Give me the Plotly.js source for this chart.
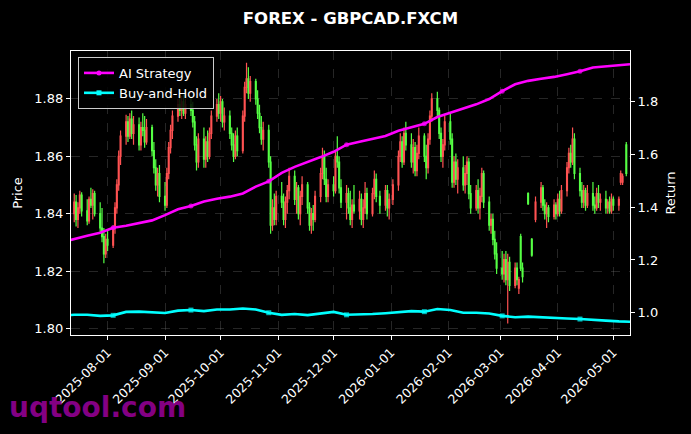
<!DOCTYPE html>
<html>
<head>
<meta charset="utf-8">
<script src="https://cdn.plot.ly/plotly-3.0.1.min.js"></script>
<style>html,body{margin:0;padding:0;background:#000;}#chart{width:691px;height:434px;}</style>
</head>
<body>
<div id="chart"></div>
<script>
// ---- candle data (daily, GBPCAD) ----
const dates = [
'2025-07-14','2025-07-15','2025-07-16','2025-07-17','2025-07-18',
'2025-07-21','2025-07-22','2025-07-23','2025-07-24','2025-07-25',
'2025-07-28','2025-07-29','2025-07-30','2025-07-31','2025-08-01',
'2025-08-04','2025-08-05','2025-08-06','2025-08-07','2025-08-08',
'2025-08-11','2025-08-12','2025-08-13','2025-08-14','2025-08-15',
'2025-08-18','2025-08-19','2025-08-20','2025-08-21','2025-08-22',
'2025-08-25','2025-08-26','2025-08-27','2025-08-28','2025-08-29',
'2025-09-01','2025-09-02','2025-09-03','2025-09-04','2025-09-05',
'2025-09-08','2025-09-09','2025-09-10','2025-09-11','2025-09-12',
'2025-09-15','2025-09-16','2025-09-17','2025-09-18','2025-09-19',
'2025-09-22','2025-09-23','2025-09-24','2025-09-25','2025-09-26',
'2025-09-29','2025-09-30','2025-10-01','2025-10-02','2025-10-03',
'2025-10-06','2025-10-07','2025-10-08','2025-10-09','2025-10-10',
'2025-10-13','2025-10-14','2025-10-15','2025-10-16','2025-10-17',
'2025-10-20','2025-10-21','2025-10-22','2025-10-23','2025-10-24',
'2025-10-27','2025-10-28','2025-10-29','2025-10-30','2025-10-31',
'2025-11-03','2025-11-04','2025-11-05','2025-11-06','2025-11-07',
'2025-11-10','2025-11-11','2025-11-12','2025-11-13','2025-11-14',
'2025-11-17','2025-11-18','2025-11-19','2025-11-20','2025-11-21',
'2025-11-24','2025-11-25','2025-11-26','2025-11-27','2025-11-28',
'2025-12-01','2025-12-02','2025-12-03','2025-12-04','2025-12-05',
'2025-12-08','2025-12-09','2025-12-10','2025-12-11','2025-12-12',
'2025-12-15','2025-12-16','2025-12-17','2025-12-18','2025-12-19',
'2025-12-22','2025-12-23','2025-12-24','2025-12-26',
'2025-12-29','2025-12-30','2025-12-31','2026-01-02',
'2026-01-05','2026-01-06','2026-01-07','2026-01-08','2026-01-09',
'2026-01-12','2026-01-13','2026-01-14','2026-01-15','2026-01-16',
'2026-01-19','2026-01-20','2026-01-21','2026-01-22','2026-01-23',
'2026-01-26','2026-01-27','2026-01-28','2026-01-29','2026-01-30',
'2026-02-02','2026-02-03','2026-02-04','2026-02-05','2026-02-06',
'2026-02-09','2026-02-10','2026-02-11','2026-02-12','2026-02-13',
'2026-02-16','2026-02-17','2026-02-18','2026-02-19','2026-02-20',
'2026-02-23','2026-02-24','2026-02-25','2026-02-26','2026-02-27',
'2026-03-02','2026-03-03','2026-03-04','2026-03-05','2026-03-06',
'2026-03-09','2026-03-10','2026-03-11','2026-03-12','2026-03-13',
'2026-03-16','2026-03-18','2026-03-20',
'2026-03-23','2026-03-24','2026-03-25','2026-03-26','2026-03-27',
'2026-03-30','2026-03-31','2026-04-01','2026-04-02','2026-04-03',
'2026-04-06','2026-04-07','2026-04-08','2026-04-09','2026-04-10',
'2026-04-13','2026-04-14','2026-04-15','2026-04-16','2026-04-17',
'2026-04-20','2026-04-21','2026-04-22','2026-04-23','2026-04-24',
'2026-04-27','2026-04-28','2026-04-29','2026-04-30','2026-05-01',
'2026-05-04','2026-05-05','2026-05-06','2026-05-08'
];
const openP = [
1.8400,1.8440,1.8380,1.8420,1.8465,
1.8410,1.8375,1.8450,1.8430,1.8470,
1.8400,1.8350,1.8320,1.8260,1.8310,
1.8290,1.8350,1.8420,1.8500,1.8600,
1.8670,1.8720,1.8670,1.8730,1.8680,
1.8710,1.8640,1.8700,1.8690,1.8650,
1.8700,1.8620,1.8560,1.8500,1.8540,
1.8460,1.8430,1.8540,1.8630,1.8690,
1.8740,1.8780,1.8760,1.8790,1.8750,
1.8780,1.8760,1.8720,1.8640,1.8580,
1.8660,1.8590,1.8650,1.8600,1.8680,
1.8740,1.8780,1.8750,1.8790,1.8720,
1.8740,1.8680,1.8640,1.8600,1.8670,
1.8620,1.8740,1.8840,1.8870,1.8820,
1.8860,1.8800,1.8750,1.8700,1.8660,
1.8690,1.8580,1.8360,1.8420,1.8380,
1.8460,1.8440,1.8380,1.8440,1.8480,
1.8530,1.8450,1.8490,1.8400,1.8460,
1.8500,1.8420,1.8360,1.8400,1.8380,
1.8460,1.8540,1.8600,1.8520,1.8460,
1.8500,1.8480,1.8600,1.8580,1.8490,
1.8440,1.8470,1.8420,1.8380,1.8430,
1.8410,1.8450,1.8380,1.8420,1.8470,
1.8400,1.8470,1.8520,1.8460,
1.8430,1.8480,1.8420,1.8450,
1.8500,1.8600,1.8650,1.8580,1.8680,
1.8640,1.8580,1.8630,1.8550,1.8610,
1.8670,1.8600,1.8560,1.8660,1.8740,
1.8800,1.8760,1.8680,1.8600,1.8640,
1.8720,1.8660,1.8510,1.8580,1.8520,
1.8560,1.8500,1.8540,1.8580,1.8470,
1.8420,1.8480,1.8420,1.8460,1.8540,
1.8440,1.8360,1.8380,1.8310,1.8260,
1.8210,1.8190,1.8240,1.8170,1.8230,
1.8150,1.8210,1.8140,1.8320,1.8210,
1.8470,1.8310,1.8380,
1.8440,1.8490,1.8430,1.8400,1.8420,
1.8390,1.8430,1.8400,1.8450,1.8410,
1.8480,1.8560,1.8610,1.8580,1.8660,
1.8540,1.8480,1.8440,1.8480,1.8430,
1.8470,1.8430,1.8420,1.8470,1.8440,
1.8450,1.8420,1.8440,1.8410,1.8450,
1.8430,1.8510,1.8510,1.8640
];
const highP = [
1.8470,1.8465,1.8440,1.8480,1.8475,
1.8450,1.8460,1.8490,1.8485,1.8480,
1.8440,1.8420,1.8350,1.8330,1.8340,
1.8360,1.8440,1.8520,1.8620,1.8690,
1.8745,1.8740,1.8750,1.8760,1.8740,
1.8735,1.8720,1.8750,1.8740,1.8730,
1.8710,1.8650,1.8590,1.8560,1.8570,
1.8510,1.8560,1.8650,1.8710,1.8760,
1.8800,1.8820,1.8810,1.8815,1.8800,
1.8810,1.8790,1.8740,1.8670,1.8680,
1.8700,1.8670,1.8690,1.8700,1.8760,
1.8800,1.8820,1.8810,1.8800,1.8770,
1.8760,1.8700,1.8680,1.8690,1.8700,
1.8760,1.8860,1.8926,1.8910,1.8880,
1.8870,1.8830,1.8780,1.8740,1.8720,
1.8710,1.8600,1.8450,1.8470,1.8480,
1.8510,1.8470,1.8460,1.8500,1.8560,
1.8550,1.8510,1.8500,1.8480,1.8530,
1.8510,1.8440,1.8420,1.8430,1.8480,
1.8560,1.8630,1.8620,1.8560,1.8520,
1.8530,1.8620,1.8670,1.8600,1.8520,
1.8500,1.8490,1.8480,1.8450,1.8500,
1.8480,1.8470,1.8450,1.8510,1.8490,
1.8490,1.8550,1.8540,1.8480,
1.8500,1.8500,1.8470,1.8520,
1.8620,1.8680,1.8670,1.8700,1.8720,
1.8680,1.8660,1.8650,1.8640,1.8700,
1.8680,1.8640,1.8680,1.8760,1.8820,
1.8825,1.8770,1.8700,1.8660,1.8740,
1.8750,1.8680,1.8600,1.8610,1.8590,
1.8600,1.8570,1.8600,1.8595,1.8500,
1.8500,1.8520,1.8490,1.8560,1.8550,
1.8460,1.8400,1.8400,1.8340,1.8300,
1.8270,1.8260,1.8270,1.8260,1.8250,
1.8230,1.8230,1.8180,1.8330,1.8230,
1.8475,1.8315,1.8460,
1.8510,1.8500,1.8450,1.8440,1.8430,
1.8450,1.8440,1.8470,1.8480,1.8500,
1.8580,1.8630,1.8640,1.8700,1.8680,
1.8560,1.8510,1.8500,1.8490,1.8500,
1.8510,1.8460,1.8490,1.8500,1.8470,
1.8480,1.8450,1.8460,1.8470,1.8460,
1.8460,1.8550,1.8540,1.8650
];
const lowP = [
1.8370,1.8355,1.8350,1.8400,1.8390,
1.8360,1.8365,1.8420,1.8380,1.8390,
1.8330,1.8300,1.8227,1.8245,1.8270,
1.8280,1.8330,1.8400,1.8480,1.8570,
1.8640,1.8650,1.8660,1.8660,1.8640,
1.8620,1.8620,1.8670,1.8630,1.8640,
1.8600,1.8540,1.8480,1.8460,1.8440,
1.8410,1.8420,1.8520,1.8610,1.8660,
1.8720,1.8740,1.8730,1.8740,1.8730,
1.8740,1.8700,1.8620,1.8550,1.8560,
1.8560,1.8560,1.8580,1.8590,1.8660,
1.8720,1.8730,1.8720,1.8700,1.8690,
1.8660,1.8620,1.8580,1.8590,1.8600,
1.8610,1.8720,1.8820,1.8800,1.8790,
1.8780,1.8730,1.8680,1.8640,1.8620,
1.8560,1.8330,1.8340,1.8360,1.8360,
1.8420,1.8360,1.8350,1.8400,1.8450,
1.8430,1.8400,1.8380,1.8360,1.8430,
1.8400,1.8340,1.8330,1.8340,1.8370,
1.8440,1.8520,1.8500,1.8440,1.8440,
1.8460,1.8470,1.8560,1.8470,1.8420,
1.8380,1.8400,1.8360,1.8350,1.8400,
1.8380,1.8360,1.8350,1.8400,1.8380,
1.8390,1.8450,1.8440,1.8400,
1.8410,1.8390,1.8380,1.8430,
1.8480,1.8580,1.8560,1.8570,1.8620,
1.8560,1.8540,1.8530,1.8530,1.8590,
1.8580,1.8520,1.8540,1.8640,1.8720,
1.8740,1.8660,1.8580,1.8560,1.8620,
1.8640,1.8490,1.8490,1.8500,1.8470,
1.8480,1.8470,1.8500,1.8450,1.8400,
1.8410,1.8400,1.8380,1.8440,1.8420,
1.8340,1.8330,1.8290,1.8240,1.8190,
1.8170,1.8160,1.8150,1.8017,1.8130,
1.8140,1.8150,1.8120,1.8200,1.8160,
1.8430,1.8250,1.8370,
1.8420,1.8410,1.8380,1.8350,1.8370,
1.8380,1.8380,1.8390,1.8390,1.8400,
1.8460,1.8540,1.8560,1.8570,1.8520,
1.8460,1.8420,1.8420,1.8410,1.8420,
1.8410,1.8400,1.8410,1.8420,1.8410,
1.8400,1.8400,1.8400,1.8400,1.8410,
1.8410,1.8500,1.8500,1.8530
];
const closeP = [
1.8440,1.8380,1.8420,1.8465,1.8410,
1.8375,1.8450,1.8430,1.8470,1.8400,
1.8350,1.8320,1.8260,1.8310,1.8290,
1.8350,1.8420,1.8500,1.8600,1.8670,
1.8720,1.8670,1.8730,1.8680,1.8710,
1.8640,1.8700,1.8690,1.8650,1.8700,
1.8620,1.8560,1.8500,1.8540,1.8460,
1.8430,1.8540,1.8630,1.8690,1.8740,
1.8780,1.8760,1.8790,1.8750,1.8780,
1.8760,1.8720,1.8640,1.8580,1.8660,
1.8590,1.8650,1.8600,1.8680,1.8740,
1.8780,1.8750,1.8790,1.8720,1.8740,
1.8680,1.8640,1.8600,1.8670,1.8620,
1.8740,1.8840,1.8870,1.8820,1.8860,
1.8800,1.8750,1.8700,1.8660,1.8690,
1.8580,1.8360,1.8420,1.8380,1.8460,
1.8440,1.8380,1.8440,1.8480,1.8530,
1.8450,1.8490,1.8400,1.8460,1.8500,
1.8420,1.8360,1.8400,1.8380,1.8460,
1.8540,1.8600,1.8520,1.8460,1.8500,
1.8480,1.8600,1.8580,1.8490,1.8440,
1.8470,1.8420,1.8380,1.8430,1.8410,
1.8450,1.8380,1.8420,1.8470,1.8400,
1.8470,1.8520,1.8460,1.8430,
1.8480,1.8420,1.8450,1.8500,
1.8600,1.8650,1.8580,1.8680,1.8640,
1.8580,1.8630,1.8550,1.8610,1.8670,
1.8600,1.8560,1.8660,1.8740,1.8800,
1.8760,1.8680,1.8600,1.8640,1.8720,
1.8660,1.8510,1.8580,1.8520,1.8560,
1.8500,1.8540,1.8580,1.8470,1.8420,
1.8480,1.8420,1.8460,1.8540,1.8440,
1.8360,1.8380,1.8310,1.8260,1.8210,
1.8190,1.8240,1.8170,1.8230,1.8150,
1.8210,1.8170,1.8170,1.8210,1.8180,
1.8435,1.8255,1.8440,
1.8490,1.8430,1.8400,1.8420,1.8390,
1.8430,1.8400,1.8450,1.8410,1.8480,
1.8560,1.8610,1.8580,1.8660,1.8540,
1.8480,1.8440,1.8480,1.8430,1.8470,
1.8430,1.8420,1.8470,1.8440,1.8450,
1.8420,1.8440,1.8410,1.8450,1.8430,
1.8450,1.8540,1.8530,1.8540
];

// ---- strategy lines (right axis) ----
const lineDates = ['2025-07-12','2025-07-14','2025-07-21','2025-07-28','2025-08-04','2025-08-11','2025-08-18','2025-08-25',
'2025-09-01','2025-09-08','2025-09-15','2025-09-22','2025-09-29','2025-10-06','2025-10-13','2025-10-20','2025-10-27',
'2025-11-03','2025-11-10','2025-11-17','2025-11-24','2025-12-01','2025-12-08','2025-12-15','2025-12-22','2025-12-29',
'2026-01-05','2026-01-12','2026-01-19','2026-01-26','2026-02-02','2026-02-09','2026-02-16','2026-02-23',
'2026-03-02','2026-03-09','2026-03-16','2026-03-23','2026-03-30','2026-04-06','2026-04-13','2026-04-20','2026-04-27',
'2026-05-04','2026-05-10'];
const aiStrategy = [1.276,1.280,1.292,1.303,1.322,1.330,1.340,1.350,
1.370,1.392,1.405,1.422,1.432,1.440,1.452,1.478,1.498,
1.530,1.553,1.570,1.590,1.610,1.637,1.648,1.658,1.670,
1.690,1.703,1.716,1.742,1.758,1.772,1.790,1.810,
1.840,1.866,1.879,1.887,1.894,1.904,1.915,1.930,1.935,
1.940,1.942];
const buyHold = [0.991,0.992,0.992,0.988,0.990,1.003,1.004,1.002,
0.999,1.008,1.010,1.006,1.012,1.012,1.016,1.012,1.000,
0.992,0.995,0.991,0.998,1.003,0.992,0.993,0.995,0.998,
1.002,1.006,1.004,1.014,1.010,1.000,1.000,0.997,
0.988,0.983,0.985,0.982,0.980,0.978,0.976,0.974,0.970,
0.967,0.966];
const seriesNames = ['AI Strategy','Buy-and-Hold'];

const yTicksLeft = [1.80,1.82,1.84,1.86,1.88];
const yTicksRight = [1.0,1.2,1.4,1.6,1.8];
const xTicks = ['2025-08-01','2025-09-01','2025-10-01','2025-11-01','2025-12-01','2026-01-01','2026-02-01','2026-03-01','2026-04-01','2026-05-01'];

const markSizes = lineDates.map((d,i)=> (i%6===4 ? 5 : 0));
const FONT = 'DejaVu Sans, sans-serif';
const AI_COLOR = '#ff00ff', BH_COLOR = '#00ffff';

const traces = [
  {
    type:'candlestick', x:dates, open:openP, high:highP, low:lowP, close:closeP,
    increasing:{line:{color:'#ff5252',width:1.2}, fillcolor:'#ff5252'},
    decreasing:{line:{color:'#55ff44',width:1.2}, fillcolor:'#55ff44'},
    whiskerwidth:0, showlegend:false, hoverinfo:'skip', yaxis:'y'
  },
  {
    type:'scatter', mode:'lines+markers', name:seriesNames[0], x:lineDates, y:aiStrategy, yaxis:'y2',
    line:{color:AI_COLOR,width:2.6}, marker:{color:AI_COLOR,size:markSizes, line:{width:0}}, showlegend:false
  },
  {
    type:'scatter', mode:'lines+markers', name:seriesNames[1], x:lineDates, y:buyHold, yaxis:'y2',
    line:{color:BH_COLOR,width:2.6}, marker:{color:BH_COLOR,size:markSizes, symbol:'square', line:{width:0}}, showlegend:false
  },
  // legend entries (no data drawn)
  {
    type:'scatter', mode:'lines+markers', name:seriesNames[0], x:[null], y:[null], yaxis:'y2',
    line:{color:AI_COLOR,width:2.6}, marker:{color:AI_COLOR,size:5, line:{width:0}}, showlegend:true
  },
  {
    type:'scatter', mode:'lines+markers', name:seriesNames[1], x:[null], y:[null], yaxis:'y2',
    line:{color:BH_COLOR,width:2.6}, marker:{color:BH_COLOR,size:5, symbol:'square', line:{width:0}}, showlegend:true
  }
];

const gridStyle = {gridcolor:'rgba(140,140,140,0.45)', griddash:'dash', gridwidth:0.6};

const layout = {
  width:691, height:434,
  paper_bgcolor:'#000', plot_bgcolor:'#000',
  font:{family:FONT, color:'#ffffff', size:13},
  margin:{l:71, r:61, t:51, b:99},
  title:{text:'<b>FOREX - GBPCAD.FXCM</b>', font:{family:FONT, size:16.5, color:'#fff'},
         x:0.5, xref:'paper', xanchor:'center', y:1-18/434, yref:'container', yanchor:'middle'},
  xaxis:Object.assign({
    type:'date', range:['2025-07-12 06:00','2026-05-10'],
    tickmode:'array', tickvals:xTicks, ticktext:xTicks, tickangle:-45,
    ticks:'outside', ticklen:4, tickcolor:'#fff', tickfont:{size:12.5, color:'#fff'},
    showline:true, linecolor:'#fff', linewidth:1.2, mirror:true,
    rangeslider:{visible:false}, zeroline:false
  }, gridStyle),
  yaxis:Object.assign({
    range:[1.7977,1.8967], tickmode:'array', tickvals:yTicksLeft, ticktext:yTicksLeft.map(v=>v.toFixed(2)),
    ticks:'outside', ticklen:4, tickcolor:'#fff', tickfont:{size:13, color:'#fff'},
    showline:true, linecolor:'#fff', linewidth:1.2, mirror:true, zeroline:false,
    title:{text:'Price', font:{size:13, color:'#fff'}, standoff:8}
  }, gridStyle),
  yaxis2:{
    overlaying:'y', side:'right', range:[0.9155,1.9922],
    tickmode:'array', tickvals:yTicksRight, ticktext:yTicksRight.map(v=>v.toFixed(1)),
    ticks:'outside', ticklen:4, tickcolor:'#fff', tickfont:{size:13, color:'#fff'},
    showgrid:false, zeroline:false, showline:false,
    title:{text:'Return', font:{size:13, color:'#fff'}, standoff:8}
  },
  legend:{x:0.0125, y:0.979, xanchor:'left', yanchor:'top', xref:'paper', yref:'paper',
          bgcolor:'rgba(0,0,0,0.85)', bordercolor:'#cccccc', borderwidth:1,
          font:{size:13, color:'#fff', family:FONT}, tracegroupgap:2, itemwidth:30},
  annotations:[{
    text:'<b>uqtool.com</b>', xref:'paper', yref:'paper', x:(97-71)/559, y:(335-407)/284,
    xanchor:'center', yanchor:'middle', showarrow:false,
    font:{family:FONT, size:28, color:'rgba(140,0,140,0.95)'}
  }],
  showlegend:true
};

Plotly.newPlot('chart', traces, layout, {displayModeBar:false, staticPlot:true});
</script>
</body>
</html>
